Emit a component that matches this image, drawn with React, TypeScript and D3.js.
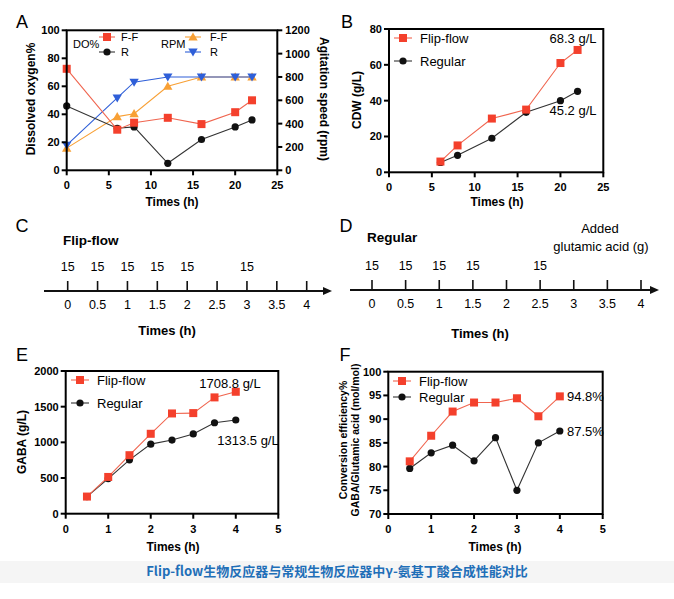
import React from 'react';
import * as d3 from 'd3';

// ---------- data ----------
const timeA = [0, 6, 8, 12, 16, 20, 22];
const doFF = [72.5, 29, 34, 37.5, 33, 41.5, 50];
const doR = [46, 30, 31, 5, 22, 31, 36];
const rpmFF = [190, 460, 485, 720, 800, 800, 800];
const rpmR = [215, 620, 755, 800, 800, 800, 800];

const timeB = [6, 8, 12, 16, 20, 22];
const cdwFF = [6, 15, 30, 35, 61, 68.3];
const cdwR = [5.5, 9.5, 19, 33.5, 40, 45.2];

const feedTicks = [0, 0.5, 1, 1.5, 2, 2.5, 3, 3.5, 4];
const feedFF = [0, 0.5, 1, 1.5, 2, 3];
const feedR = [0, 0.5, 1, 1.5, 2.5];
const feedAmount = 15;

const timeEF = [0.5, 1, 1.5, 2, 2.5, 3, 3.5, 4];
const gabaFF = [240, 515, 820, 1120, 1405, 1410, 1630, 1708.8];
const gabaR = [240, 492, 755, 975, 1032, 1118, 1275, 1313.5];
const convFF = [81.1, 86.5, 91.6, 93.5, 93.5, 94.4, 90.6, 94.8];
const convR = [79.6, 82.9, 84.5, 81.2, 86.1, 75.0, 85.0, 87.5];

const ticksX25 = [0, 5, 10, 15, 20, 25];
const ticksX5 = [0, 1, 2, 3, 4, 5];
const ticksDO = [0, 20, 40, 60, 80, 100];
const ticksRPM = [0, 200, 400, 600, 800, 1000, 1200];
const ticksCDW = [0, 20, 40, 60, 80];
const ticksGABA = [0, 500, 1000, 1500, 2000];
const ticksConv = [70, 75, 80, 85, 90, 95, 100];

const caption = 'Flip-flow生物反应器与常规生物反应器中γ-氨基丁酸合成性能对比';

// ---------- styles ----------
const RED = '#f4402c';
const RED_LINE = '#f0654f';
const BLACK = '#111111';
const ORANGE = '#f8a035';
const BLUE = '#2f5fd8';
const FONT = '"Liberation Sans", Arial, sans-serif';

type MarkerType = 'square' | 'circle' | 'up' | 'down';

function Marker({ type, x, y, color }: { type: MarkerType; x: number; y: number; color: string }) {
  if (type === 'square') return <rect x={x - 4} y={y - 4} width={8} height={8} fill={color} />;
  if (type === 'circle') return <circle cx={x} cy={y} r={3.6} fill={color} />;
  const p = d3.symbol().type(d3.symbolTriangle).size(38)();
  return <path d={p || ''} fill={color} transform={`translate(${x},${y + (type === 'up' ? 0.8 : -0.8)}) rotate(${type === 'down' ? 180 : 0})`} />;
}

interface Series {
  xs: number[];
  ys: number[];
  color: string;
  line: string;
  marker: MarkerType;
  right?: boolean;
}

interface PlotProps {
  box: [number, number, number, number];
  xDomain: [number, number];
  yDomain: [number, number];
  xTicks: number[];
  yTicks: number[];
  y2Domain?: [number, number];
  y2Ticks?: number[];
  series: Series[];
}

function Plot({ box, xDomain, yDomain, xTicks, yTicks, y2Domain, y2Ticks, series }: PlotProps) {
  const [x0, x1, yTop, yBot] = box;
  const xs = d3.scaleLinear().domain(xDomain).range([x0, x1]);
  const ys = d3.scaleLinear().domain(yDomain).range([yBot, yTop]);
  const ys2 = y2Domain ? d3.scaleLinear().domain(y2Domain).range([yBot, yTop]) : null;
  const lineGen = (sc: d3.ScaleLinear<number, number>) =>
    d3.line<[number, number]>().x((d) => xs(d[0])).y((d) => sc(d[1]));
  return (
    <g>
      {series.map((s, i) => {
        const sc = s.right && ys2 ? ys2 : ys;
        const pts = s.xs.map((x, j) => [x, s.ys[j]] as [number, number]);
        return (
          <g key={i}>
            <path d={lineGen(sc)(pts) || ''} fill="none" stroke={s.line} strokeWidth={1.1} />
            {pts.map((p, j) => (
              <Marker key={j} type={s.marker} x={xs(p[0])} y={sc(p[1])} color={s.color} />
            ))}
          </g>
        );
      })}
      <rect x={x0} y={yTop} width={x1 - x0} height={yBot - yTop} fill="none" stroke="#000" strokeWidth={2} />
      {xTicks.map((t) => (
        <g key={'x' + t}>
          <line x1={xs(t)} x2={xs(t)} y1={yBot} y2={yBot + 5} stroke="#000" strokeWidth={2} />
          <text x={xs(t)} y={yBot + 19} textAnchor="middle" fontFamily={FONT} fontWeight="bold" fontSize={11}>
            {t}
          </text>
        </g>
      ))}
      {yTicks.map((t) => (
        <g key={'y' + t}>
          <line x1={x0 - 5} x2={x0} y1={ys(t)} y2={ys(t)} stroke="#000" strokeWidth={2} />
          <text x={x0 - 7} y={ys(t) + 4} textAnchor="end" fontFamily={FONT} fontWeight="bold" fontSize={11}>
            {t}
          </text>
        </g>
      ))}
      {ys2 && y2Ticks
        ? y2Ticks.map((t) => (
            <g key={'y2' + t}>
              <line x1={x1} x2={x1 + 5} y1={ys2(t)} y2={ys2(t)} stroke="#000" strokeWidth={2} />
              <text x={x1 + 8} y={ys2(t) + 4} textAnchor="start" fontFamily={FONT} fontWeight="bold" fontSize={11}>
                {t}
              </text>
            </g>
          ))
        : null}
    </g>
  );
}

function LegendItem({ x, y, color, line, marker, label, fontSize = 13, len = 18, gap = 8 }: any) {
  return (
    <g>
      <line x1={x - len / 2} x2={x + len / 2} y1={y} y2={y} stroke={line} strokeWidth={1.1} />
      <Marker type={marker} x={x} y={y} color={color} />
      <text x={x + len / 2 + gap} y={y + fontSize * 0.36} fontFamily={FONT} fontSize={fontSize}>
        {label}
      </text>
    </g>
  );
}

function Timeline({ x0, x4, axisY, start, end, fed, titleX, titleY }: any) {
  const sc = d3.scaleLinear().domain([0, 4]).range([x0, x4]);
  return (
    <g>
      <line x1={start} x2={end - 6} y1={axisY} y2={axisY} stroke="#111" strokeWidth={2} />
      <path d={`M${end},${axisY} L${end - 9},${axisY - 4} L${end - 9},${axisY + 4} Z`} fill="#111" />
      {feedTicks.map((t) => (
        <g key={t}>
          <line x1={sc(t)} x2={sc(t)} y1={axisY - 10} y2={axisY} stroke="#111" strokeWidth={1.6} />
          <text x={sc(t)} y={axisY + 18} textAnchor="middle" fontFamily={FONT} fontSize={12.5}>
            {t}
          </text>
        </g>
      ))}
      {fed.map((t: number) => (
        <text key={'f' + t} x={sc(t)} y={axisY - 20} textAnchor="middle" fontFamily={FONT} fontSize={12.5}>
          {feedAmount}
        </text>
      ))}
      <text x={titleX} y={titleY} textAnchor="middle" fontFamily={FONT} fontWeight="bold" fontSize={13}>
        Times (h)
      </text>
    </g>
  );
}

const Letter = ({ x, y, t }: { x: number; y: number; t: string }) => (
  <text x={x} y={y} textAnchor="middle" fontFamily={FONT} fontSize={18}>
    {t}
  </text>
);

const AxisTitle = ({ x, y, t, rot = -90, size = 12 }: any) => (
  <text
    x={0}
    y={0}
    transform={`translate(${x},${y}) rotate(${rot})`}
    textAnchor="middle"
    dominantBaseline="central"
    fontFamily={FONT}
    fontWeight="bold"
    fontSize={size}
  >
    {t}
  </text>
);

export default function App() {
  return (
    <svg
      width={674}
      height={599}
      viewBox="0 0 674 599"
      style={{ position: 'absolute', left: 0, top: 0, background: '#fff' }}
    >
      <rect x={0} y={0} width={674} height={599} fill="#fff" />

      {/* Panel A */}
      <Letter x={22} y={28} t="A" />
      <Plot
        box={[66.7, 277.3, 30.3, 170.3]}
        xDomain={[0, 25]}
        yDomain={[0, 100]}
        xTicks={ticksX25}
        yTicks={ticksDO}
        y2Domain={[0, 1200]}
        y2Ticks={ticksRPM}
        series={[
          { xs: timeA, ys: rpmFF, color: ORANGE, line: ORANGE, marker: 'up', right: true },
          { xs: timeA, ys: rpmR, color: BLUE, line: BLUE, marker: 'down', right: true },
          { xs: timeA, ys: doR, color: BLACK, line: '#333', marker: 'circle' },
          { xs: timeA, ys: doFF, color: RED, line: RED_LINE, marker: 'square' },
        ]}
      />
      <text x={73} y={48} fontFamily={FONT} fontSize={11}>DO%</text>
      <LegendItem x={107} y={37} color={RED} line={RED_LINE} marker="square" label="F-F" fontSize={11} len={16} gap={6} />
      <LegendItem x={107} y={52} color={BLACK} line="#333" marker="circle" label="R" fontSize={11} len={16} gap={6} />
      <text x={161} y={48} fontFamily={FONT} fontSize={11}>RPM</text>
      <LegendItem x={193} y={37} color={ORANGE} line={ORANGE} marker="up" label="F-F" fontSize={11} len={16} gap={9} />
      <LegendItem x={193} y={52} color={BLUE} line={BLUE} marker="down" label="R" fontSize={11} len={16} gap={9} />
      <AxisTitle x={31} y={99} t="Dissolved oxygen%" />
      <AxisTitle x={324} y={99} t="Agitation speed (rpm)" rot={90} />
      <text x={172} y={206} textAnchor="middle" fontFamily={FONT} fontWeight="bold" fontSize={12}>Times (h)</text>

      {/* Panel B */}
      <Letter x={347} y={28} t="B" />
      <Plot
        box={[389, 603.3, 29, 172.3]}
        xDomain={[0, 25]}
        yDomain={[0, 80]}
        xTicks={ticksX25}
        yTicks={ticksCDW}
        series={[
          { xs: timeB, ys: cdwR, color: BLACK, line: '#333', marker: 'circle' },
          { xs: timeB, ys: cdwFF, color: RED, line: RED_LINE, marker: 'square' },
        ]}
      />
      <LegendItem x={403} y={38} color={RED} line={RED_LINE} marker="square" label="Flip-flow" />
      <LegendItem x={403} y={61} color={BLACK} line="#333" marker="circle" label="Regular" />
      <text x={573} y={43} textAnchor="middle" fontFamily={FONT} fontSize={13}>68.3 g/L</text>
      <text x={573} y={115} textAnchor="middle" fontFamily={FONT} fontSize={13}>45.2 g/L</text>
      <AxisTitle x={357} y={100} t="CDW (g/L)" />
      <text x={497} y={206} textAnchor="middle" fontFamily={FONT} fontWeight="bold" fontSize={12}>Times (h)</text>

      {/* Panel C */}
      <Letter x={22} y={232} t="C" />
      <text x={63} y={245} fontFamily={FONT} fontWeight="bold" fontSize={13.5}>Flip-flow</text>
      <Timeline x0={67.7} x4={306.7} axisY={291} start={44} end={332} fed={feedFF} titleX={167} titleY={335} />

      {/* Panel D */}
      <Letter x={346} y={232} t="D" />
      <text x={367} y={242} fontFamily={FONT} fontWeight="bold" fontSize={13.5}>Regular</text>
      <text x={600} y={233} textAnchor="middle" fontFamily={FONT} fontSize={13}>Added</text>
      <text x={601} y={251} textAnchor="middle" fontFamily={FONT} fontSize={13}>glutamic acid (g)</text>
      <Timeline x0={372} x4={641} axisY={290} start={350} end={659} fed={feedR} titleX={480} titleY={338} />

      {/* Panel E */}
      <Letter x={22} y={361} t="E" />
      <Plot
        box={[65.7, 278.3, 371, 513.7]}
        xDomain={[0, 5]}
        yDomain={[0, 2000]}
        xTicks={ticksX5}
        yTicks={ticksGABA}
        series={[
          { xs: timeEF, ys: gabaR, color: BLACK, line: '#333', marker: 'circle' },
          { xs: timeEF, ys: gabaFF, color: RED, line: RED_LINE, marker: 'square' },
        ]}
      />
      <LegendItem x={80} y={380} color={RED} line={RED_LINE} marker="square" label="Flip-flow" />
      <LegendItem x={80} y={403} color={BLACK} line="#333" marker="circle" label="Regular" />
      <text x={230} y={388} textAnchor="middle" fontFamily={FONT} fontSize={13}>1708.8 g/L</text>
      <text x={248} y={445} textAnchor="middle" fontFamily={FONT} fontSize={13}>1313.5 g/L</text>
      <AxisTitle x={22} y={442} t="GABA (g/L)" />
      <text x={173} y={551} textAnchor="middle" fontFamily={FONT} fontWeight="bold" fontSize={12}>Times (h)</text>

      {/* Panel F */}
      <Letter x={345} y={361} t="F" />
      <Plot
        box={[388.3, 602.7, 371.7, 514]}
        xDomain={[0, 5]}
        yDomain={[70, 100]}
        xTicks={ticksX5}
        yTicks={ticksConv}
        series={[
          { xs: timeEF, ys: convR, color: BLACK, line: '#333', marker: 'circle' },
          { xs: timeEF, ys: convFF, color: RED, line: RED_LINE, marker: 'square' },
        ]}
      />
      <LegendItem x={402} y={381} color={RED} line={RED_LINE} marker="square" label="Flip-flow" />
      <LegendItem x={402} y={397} color={BLACK} line="#333" marker="circle" label="Regular" />
      <text x={567} y={401} fontFamily={FONT} fontSize={13}>94.8%</text>
      <text x={567} y={436} fontFamily={FONT} fontSize={13}>87.5%</text>
      <AxisTitle x={343} y={440} t="Conversion efficiency%" size={10.5} />
      <AxisTitle x={355} y={440} t="GABA/Glutamic acid (mol/mol)" size={10.5} />
      <text x={495} y={551} textAnchor="middle" fontFamily={FONT} fontWeight="bold" fontSize={12}>Times (h)</text>

      {/* Caption */}
      <rect x={0} y={561} width={674} height={22} fill="#f5f5f5" />
      <text
        x={337}
        y={576}
        textAnchor="middle"
        fontFamily='"Noto Sans CJK SC", sans-serif'
        fontWeight="bold"
        fontSize={13}
        fill="#1f6fb8"
      >
        {caption}
      </text>
    </svg>
  );
}
